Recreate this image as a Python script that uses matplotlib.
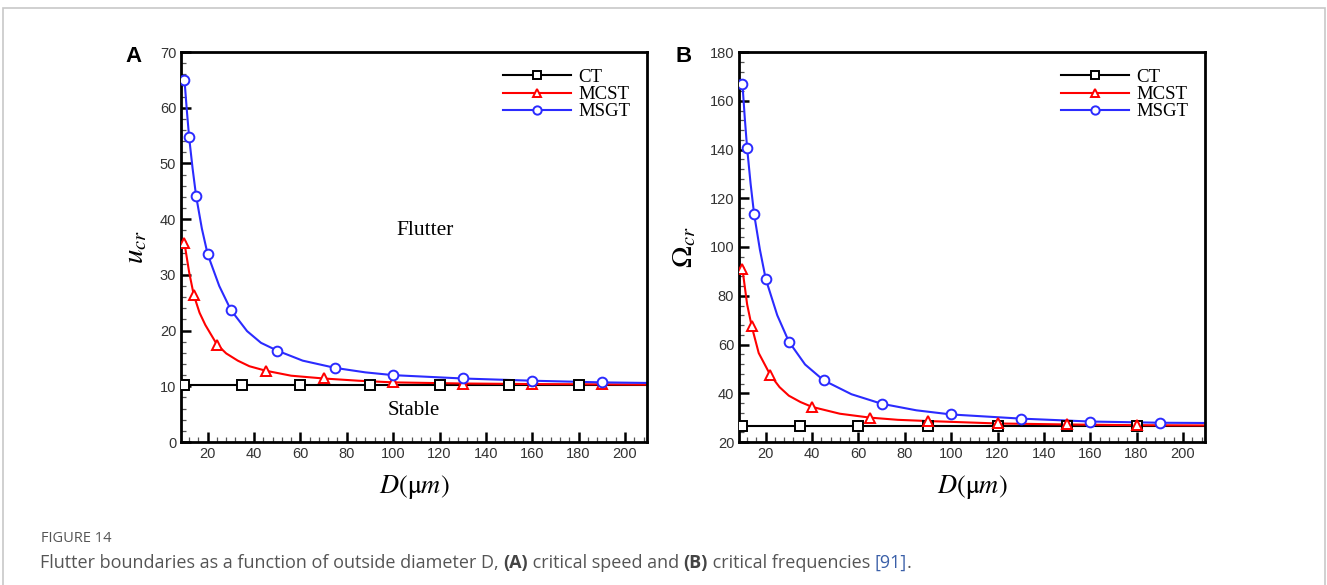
import matplotlib
matplotlib.use("Agg")
import matplotlib.pyplot as plt
from matplotlib.patches import Rectangle
from matplotlib.ticker import MultipleLocator

plt.rcParams['mathtext.fontset'] = 'stix'

# ---- data ----
# (A) critical speed u_cr
ct_a_x = [10, 35, 60, 90, 120, 150, 180]
ct_a_y = [10.2, 10.2, 10.2, 10.2, 10.2, 10.2, 10.2]
mcst_a_x = [10, 14, 24, 45, 70, 100, 130, 160, 190]
mcst_a_y = [35.7, 26.4, 17.5, 12.8, 11.4, 10.7, 10.5, 10.4, 10.35]
msgt_a_x = [10, 12, 15, 20, 30, 50, 75, 100, 130, 160, 190]
msgt_a_y = [65.0, 54.7, 44.2, 33.7, 23.7, 16.4, 13.3, 12.0, 11.4, 11.0, 10.7]
# curve samples (lines between markers)
ct_a_cx = [10, 209.5]
ct_a_cy = [10.2, 10.2]
mcst_a_cx = [10, 12, 14, 16.5, 19, 24, 28, 33, 38, 45, 56, 70, 85, 100, 130, 160, 190, 209.5]
mcst_a_cy = [35.7, 30.5, 26.4, 23.2, 21.0, 17.5, 15.9, 14.6, 13.6, 12.8, 11.9, 11.4, 11.0, 10.7, 10.5, 10.4, 10.35, 10.3]
msgt_a_cx = [10, 11, 12, 13.5, 15, 17.5, 20, 25, 30, 37, 43, 50, 61, 75, 88, 100, 130, 160, 190, 209.5]
msgt_a_cy = [65.0, 59.6, 54.7, 49.1, 44.2, 38.3, 33.7, 28.0, 23.7, 19.9, 17.8, 16.4, 14.6, 13.3, 12.5, 12.0, 11.4, 11.0, 10.7, 10.6]

# (B) critical frequency Omega_cr
ct_b_x = [10, 35, 60, 90, 120, 150, 180]
ct_b_y = [26.5, 26.5, 26.5, 26.5, 26.5, 26.5, 26.5]
mcst_b_x = [10, 14, 22, 40, 65, 90, 120, 150, 180]
mcst_b_y = [90.9, 67.4, 47.5, 34.4, 30.0, 28.6, 27.6, 27.2, 26.9]
msgt_b_x = [10, 12, 15, 20, 30, 45, 70, 100, 130, 160, 190]
msgt_b_y = [166.7, 140.6, 113.6, 87.0, 61.2, 45.3, 35.7, 31.3, 29.6, 28.4, 27.9]
ct_b_cx = [10, 209.5]
ct_b_cy = [26.5, 26.5]
mcst_b_cx = [10, 12, 14, 17, 22, 26, 30, 35, 40, 52, 65, 77, 90, 120, 150, 180, 209.5]
mcst_b_cy = [90.9, 76.5, 67.4, 56.5, 47.5, 42.5, 39.0, 36.4, 34.4, 31.6, 30.0, 29.1, 28.6, 27.6, 27.2, 26.9, 26.8]
msgt_b_cx = [10, 11, 12, 13.5, 15, 17.5, 20, 25, 30, 37, 45, 57, 70, 85, 100, 130, 160, 190, 209.5]
msgt_b_cy = [166.7, 152.8, 140.6, 126.0, 113.6, 99.0, 87.0, 72.0, 61.2, 51.8, 45.3, 39.6, 35.7, 33.0, 31.3, 29.6, 28.4, 27.9, 27.8]

series_a = [
    ("CT", "black", "s", ct_a_cx, ct_a_cy, ct_a_x, ct_a_y),
    ("MCST", "#ff0000", "^", mcst_a_cx, mcst_a_cy, mcst_a_x, mcst_a_y),
    ("MSGT", "#2b2bff", "o", msgt_a_cx, msgt_a_cy, msgt_a_x, msgt_a_y),
]
series_b = [
    ("CT", "black", "s", ct_b_cx, ct_b_cy, ct_b_x, ct_b_y),
    ("MCST", "#ff0000", "^", mcst_b_cx, mcst_b_cy, mcst_b_x, mcst_b_y),
    ("MSGT", "#2b2bff", "o", msgt_b_cx, msgt_b_cy, msgt_b_x, msgt_b_y),
]

fig = plt.figure(figsize=(13.27, 5.85), dpi=100)

# light frame around the figure (bottom edge is cut off)
fig.patches.append(Rectangle((3 / 1327, -0.05), 1322 / 1327, 1.05 - 8 / 585,
                             transform=fig.transFigure, fill=False,
                             edgecolor="#c8c8c8", lw=1.2))


def draw_panel(ax, series, ylim, ymajor, yminor, ylabel):
    for name, col, mk, cx, cy, mx, my in series:
        ax.plot(cx, cy, color=col, lw=1.5, zorder=2)
        ax.plot(mx, my, ls="none", marker=mk, ms=7 if mk != "^" else 7.5,
                mfc="white", mec=col, mew=1.4, zorder=3)
        # legend proxy
        ax.plot([], [], color=col, lw=1.5, marker=mk, ms=6, mfc="white",
                mec=col, mew=1.4, label=name)
    ax.set_xlim(8.5, 209.5)
    ax.set_ylim(*ylim)
    ax.xaxis.set_major_locator(MultipleLocator(20))
    ax.xaxis.set_minor_locator(MultipleLocator(4))
    ax.yaxis.set_major_locator(MultipleLocator(ymajor))
    ax.yaxis.set_minor_locator(MultipleLocator(yminor))
    ax.tick_params(which="both", direction="in", top=False, right=False,
                   labelsize=10.5, labelcolor="#333333", width=1.3)
    ax.tick_params(which="major", length=7, width=1.8)
    ax.tick_params(which="minor", length=3.5, width=0.9, color="#555555")
    for lab in ax.get_xticklabels() + ax.get_yticklabels():
        lab.set_fontfamily("Liberation Sans")
    for sp in ax.spines.values():
        sp.set_linewidth(2.0)
    ax.set_xlabel(r"$D(\mathrm{\mu} m)$", fontsize=19, labelpad=9)
    ax.set_ylabel(ylabel, fontsize=21, labelpad=8)
    ax.legend(loc="upper left", bbox_to_anchor=(0.655, 1.0), frameon=False,
              handlelength=3.6, labelspacing=0.0, handletextpad=0.4,
              prop={"family": "Liberation Serif", "size": 13.5})


ax1 = fig.add_axes([181 / 1327, 1 - 442 / 585, 466 / 1327, 390 / 585])
draw_panel(ax1, series_a, (0, 70), 10, 2, r"$u_{cr}$")
ax1.text(114, 38, "Flutter", fontsize=15.5, family="Liberation Serif",
         ha="center", va="center")
ax1.text(109, 5.6, "Stable", fontsize=15, family="Liberation Serif",
         ha="center", va="center")

ax2 = fig.add_axes([739 / 1327, 1 - 442 / 585, 466 / 1327, 390 / 585])
draw_panel(ax2, series_b, (20, 180), 20, 4, r"$\Omega_{cr}$")

fig.text(133 / 1327, 1 - 57 / 585, "A", fontsize=16, fontweight="bold",
         family="Liberation Sans", ha="center", va="center")
fig.text(684 / 1327, 1 - 57 / 585, "B", fontsize=16, fontweight="bold",
         family="Liberation Sans", ha="center", va="center")

# caption
fig.text(41 / 1327, 1 - 538 / 585, "FIGURE 14", fontsize=10.5,
         family="Open Sans", color="#555555", va="center")
cap_parts = [
    ("Flutter boundaries as a function of outside diameter D, ", "normal", "#555555"),
    ("(A)", "bold", "#444444"),
    (" critical speed and ", "normal", "#555555"),
    ("(B)", "bold", "#444444"),
    (" critical frequencies ", "normal", "#555555"),
    ("[91]", "normal", "#3a5fa8"),
    (".", "normal", "#555555"),
]
prev = fig.text(40 / 1327, 1 - 572 / 585, cap_parts[0][0], fontsize=13,
                family="Open Sans", color=cap_parts[0][2], va="bottom")
for txt, wt, col in cap_parts[1:]:
    prev = ax1.annotate(txt, xy=(1, 0), xycoords=prev, va="bottom", ha="left",
                        fontsize=13, family="Open Sans", fontweight=wt,
                        color=col, annotation_clip=False)

fig.savefig("out.png", dpi=100)
